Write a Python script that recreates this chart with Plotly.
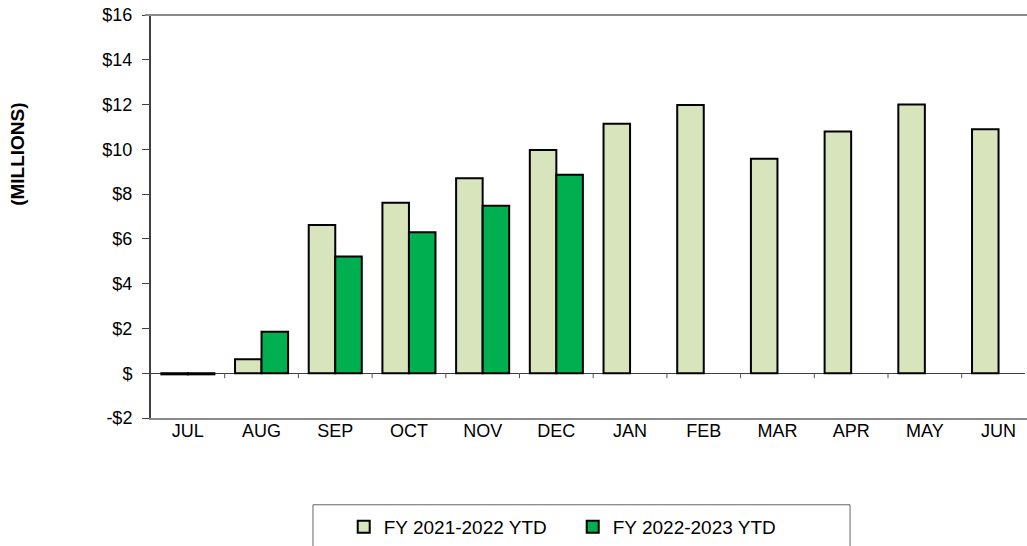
import plotly.graph_objects as go

# Monthly year-to-date totals, in millions of dollars
months = ["JUL", "AUG", "SEP", "OCT", "NOV", "DEC",
          "JAN", "FEB", "MAR", "APR", "MAY", "JUN"]
fy_2122 = [-0.05, 0.62, 6.62, 7.61, 8.71, 9.97, 11.14, 11.98, 9.58, 10.80, 12.00, 10.90]
fy_2223 = [-0.05, 1.85, 5.21, 6.30, 7.48, 8.87, None, None, None, None, None, None]

y_ticks = [-2, 0, 2, 4, 6, 8, 10, 12, 14, 16]
y_tick_text = ["-$2", "$", "$2", "$4", "$6", "$8", "$10", "$12", "$14", "$16"]

FONT = "Liberation Sans, Arial, sans-serif"
LIGHT = "#D8E4BC"
DARK = "#00B050"

fig = go.Figure()
fig.add_trace(go.Bar(x=months, y=fy_2122, name="FY 2021-2022 YTD",
                     marker=dict(color=LIGHT, line=dict(color="black", width=2))))
fig.add_trace(go.Bar(x=months, y=fy_2223, name="FY 2022-2023 YTD",
                     marker=dict(color=DARK, line=dict(color="black", width=2))))

# short tick marks on the zero line between month groups
shapes = []
for i in range(1, len(months)):
    shapes.append(dict(type="line", xref="x", yref="y", x0=i - 0.5, x1=i - 0.5,
                       ysizemode="pixel", yanchor=0, y0=0, y1=-5,
                       line=dict(color="#555555", width=1)))
# top frame line of the plot area
shapes.append(dict(type="line", xref="paper", yref="paper", x0=-0.007, x1=1.0,
                   y0=1, y1=1, line=dict(color="#8a8a8a", width=2)))
# keep the open right side of the plot area clean
shapes.append(dict(type="line", xref="paper", yref="paper", x0=1.0, x1=1.0,
                   y0=0.003, y1=0.997, layer="above", line=dict(color="white", width=4)))
# legend frame
shapes.append(dict(type="rect", xref="paper", yref="paper",
                   x0=0.1849, x1=0.798, y0=-0.2153, y1=-0.36,
                   line=dict(color="#666666", width=1), fillcolor="rgba(0,0,0,0)"))

fig.update_layout(
    width=1027, height=546,
    margin=dict(l=151, r=0, t=15, b=127),
    paper_bgcolor="white", plot_bgcolor="white",
    font=dict(family=FONT, size=18, color="black"),
    barmode="group", bargap=0.28, bargroupgap=0,
    showlegend=True,
    legend=dict(orientation="h", x=0.22, xanchor="left", y=-0.272, yanchor="middle",
                font=dict(family=FONT, size=19, color="black"),
                bgcolor="rgba(0,0,0,0)", borderwidth=0, entrywidth=184),
    shapes=shapes,
    annotations=[dict(text="<b>(MILLIONS)</b>", xref="paper", yref="paper",
                      x=-0.1518, y=0.653, xanchor="center", yanchor="middle",
                      textangle=-90, showarrow=False,
                      font=dict(family=FONT, size=19, color="black"))],
)
fig.update_xaxes(
    type="category", categoryorder="array", categoryarray=months,
    range=[-0.5, 11.386], automargin=False,
    showline=True, linecolor="#8a8a8a", linewidth=2, mirror=False,
    ticks="", showgrid=False, zeroline=False, ticklabelstandoff=-5,
    tickfont=dict(family=FONT, size=18, color="black"),
)
fig.update_yaxes(
    range=[-2, 16], tickvals=y_ticks, ticktext=y_tick_text, automargin=False,
    showline=True, linecolor="#404040", linewidth=2, mirror=False,
    ticks="outside", ticklen=7, tickcolor="#404040", tickwidth=1,
    ticklabelstandoff=6,
    showgrid=False, zeroline=True, zerolinecolor="#404040", zerolinewidth=1,
    tickfont=dict(family=FONT, size=18, color="black"),
)

fig.write_html("out.html")
